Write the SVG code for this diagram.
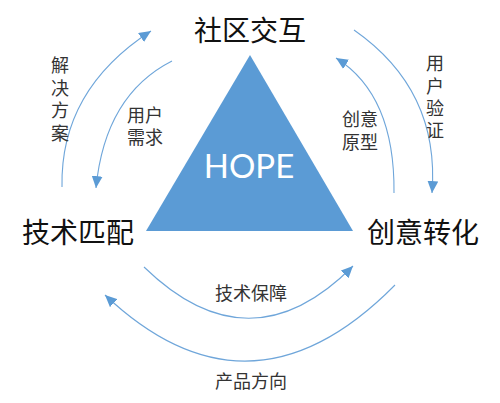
<svg xmlns="http://www.w3.org/2000/svg" width="500" height="403" viewBox="0 0 500 403">
<style>
.title{font-family:"Liberation Sans","Noto Sans CJK SC",sans-serif;font-size:28px;fill:#111}
.lbl{font-family:"Liberation Sans","Noto Sans CJK SC",sans-serif;font-size:18px;fill:#333}
.arc{fill:none;stroke:#6fa6da;stroke-width:1.1}
</style>
<defs>
<marker id="ah" markerUnits="userSpaceOnUse" markerWidth="13" markerHeight="11" refX="11" refY="5" orient="auto" viewBox="0 0 12 10">
<path d="M0,0 L11,5 L0,10 Z" fill="#5b9bd5"/>
</marker>
</defs>
<rect width="500" height="403" fill="#fff"/>
<g id="hope">
<polygon points="250,55 146,231 353,231" fill="#5b9bd5"/>
<text x="249" y="178" text-anchor="middle" style="font-family:Lato,'Liberation Sans',sans-serif;font-size:33px;fill:#fff">HOPE</text>
</g>
<g id="community"><text class="title" x="250" y="41" text-anchor="middle">社区交互</text></g>
<g id="tech"><text class="title" x="78" y="243" text-anchor="middle">技术匹配</text></g>
<g id="idea"><text class="title" x="423" y="243" text-anchor="middle">创意转化</text></g>
<g id="connectors">
<path class="arc" d="M62,187 Q60,90 151,31" marker-end="url(#ah)"/>
<path class="arc" d="M172,61 Q105,95 96,188" marker-end="url(#ah)"/>
<path class="arc" d="M394,193 Q395,95 336,58" marker-end="url(#ah)"/>
<path class="arc" d="M354,30 Q440,90 432,193" marker-end="url(#ah)"/>
<path class="arc" d="M144,267 Q250,370 353,266" marker-end="url(#ah)"/>
<path class="arc" d="M395,285 Q250,432 105,295" marker-end="url(#ah)"/>
</g>
<g id="labels">
<text class="lbl" x="60" text-anchor="middle"><tspan x="60" y="72">解</tspan><tspan x="60" y="95">决</tspan><tspan x="60" y="117">方</tspan><tspan x="60" y="140">案</tspan></text>
<text class="lbl" x="145" text-anchor="middle"><tspan x="145" y="122">用户</tspan><tspan x="145" y="144">需求</tspan></text>
<text class="lbl" x="360" text-anchor="middle"><tspan x="360" y="126">创意</tspan><tspan x="360" y="149">原型</tspan></text>
<text class="lbl" x="435" text-anchor="middle"><tspan x="435" y="70">用</tspan><tspan x="435" y="93">户</tspan><tspan x="435" y="115">验</tspan><tspan x="435" y="137">证</tspan></text>
<text class="lbl" x="251" y="300" text-anchor="middle">技术保障</text>
<text class="lbl" x="251" y="388" text-anchor="middle">产品方向</text>
</g>
</svg>
